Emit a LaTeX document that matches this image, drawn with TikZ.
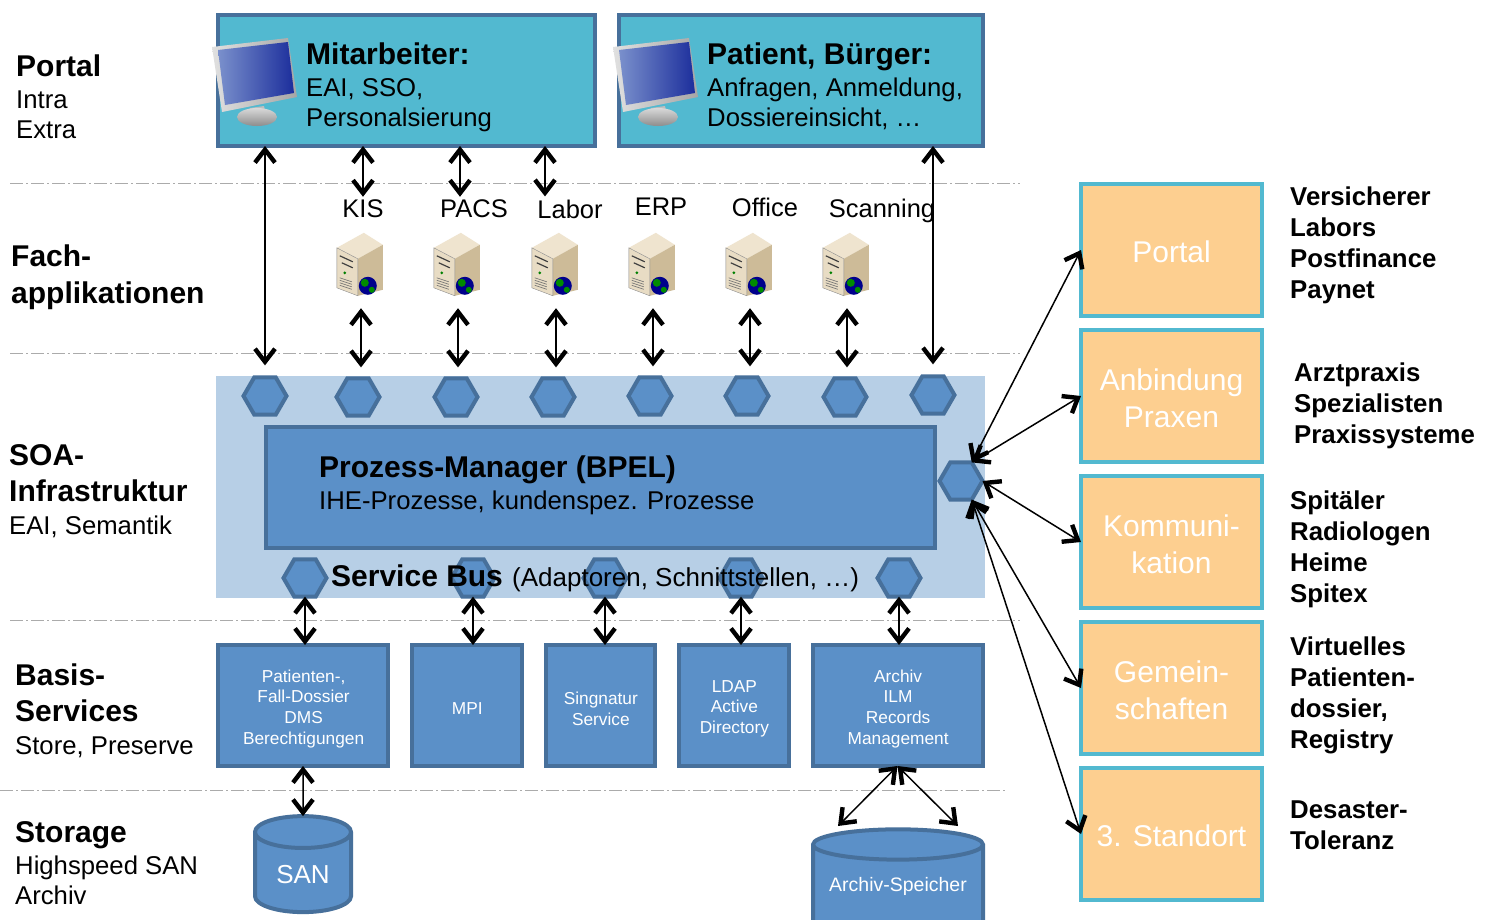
\documentclass[tikz,border=0pt]{standalone}
\usepackage{fontspec}
\setmainfont{Liberation Sans}
\usetikzlibrary{arrows.meta,positioning,shapes.geometric}
\definecolor{bluefill}{HTML}{5B90C8}
\definecolor{blueline}{HTML}{47709B}
\definecolor{bluepale}{HTML}{B7CFE6}
\definecolor{tealfill}{HTML}{52B9D0}
\definecolor{peachfill}{HTML}{FDCF90}
\definecolor{screenlight}{HTML}{7A90CC}
\definecolor{screendark}{HTML}{1C2E9C}
\definecolor{towertop}{HTML}{EFE4CF}
\definecolor{towerfront}{HTML}{E8DCC4}
\definecolor{towerside}{HTML}{CDBB98}
\newcommand{\headfont}{\fontsize{30}{36}\bfseries\selectfont}
\newcommand{\bodyfont}{\fontsize{25.7}{30}\selectfont}
\tikzset{
    layer/.style={anchor=north west,inner sep=0pt,align=left,font=\bodyfont},
    portalbox/.style={draw=blueline,fill=tealfill,line width=4pt,outer sep=0pt,anchor=north west,minimum height=131pt},
    basisbox/.style={draw=blueline,fill=bluefill,line width=4pt,outer sep=0pt,minimum height=121pt},
    basistext/.style={text=white,align=center,inner sep=0pt,yshift=-3.2pt,xshift=.6pt,font=\fontsize{17.3}{20.6}\selectfont},
    sidebox/.style={draw=tealfill,fill=peachfill,line width=4pt,outer sep=0pt,minimum width=181pt,minimum height=132pt},
    sidetext/.style={text=white,align=center,inner sep=0pt,yshift=-2pt,font=\fontsize{30}{37}\selectfont},
    sidelist/.style={anchor=north west,inner sep=0pt,align=left,font=\fontsize{25.8}{31}\bfseries\selectfont},
    hexport/.style={regular polygon,regular polygon sides=6,draw=blueline,fill=bluefill,line width=4pt,inner sep=0pt,outer sep=0pt,minimum size=43pt},
    store/.style={cylinder,shape border rotate=90,draw=blueline,fill=bluefill,line width=4pt,outer sep=0pt,text=white},
    servername/.style={inner sep=0pt,font=\fontsize{25.5}{30}\selectfont},
    serverslot/.style={inner sep=0pt,minimum width=48pt,minimum height=63pt},
    layerline/.style={draw=black!33,line width=1pt,dash pattern=on 13pt off 3pt on 2pt off 3pt},
    biarrow/.style={{Straight Barb[length=13pt,width=20pt,line width=4.4pt]}-{Straight Barb[length=13pt,width=20pt,line width=4.4pt]},line width=1.5pt},
    monitor/.pic={
        \fill[black!25] (38,70) -- (52,68) -- (54,78) -- (36,80) -- cycle;
        \shade[top color=black!15,bottom color=black!45] (45,79) ellipse (20 and 9);
        \shade[left color=black!12,right color=black!35] (0,9) -- (76,0) -- (85,59) -- (10,74) -- cycle;
        \shade[left color=screenlight,right color=screendark] (6,12) -- (76,4) -- (82,55) -- (13,67) -- cycle;
    },
    servertower/.pic={
        \fill[towertop] (0,15) -- (27,0) -- (46,12) -- (21,26) -- cycle;
        \fill[towerside] (21,26) -- (46,12) -- (46,57) -- (21,63) -- cycle;
        \draw[black!45,fill=towerfront,line width=.4pt] (0,15) -- (21,26) -- (21,63) -- (0,55) -- cycle;
        \draw[black!75,line width=1.2pt] (3,23) -- (16,29) (5,30) -- (16,35);
        \fill[green!50!black] (8,40) circle (1.5);
        \foreach \slot in {0,...,3}
            \draw[black!55,line width=.7pt] (3,45+\slot*2.5) -- (15,49+\slot*2.5);
        \fill[blue!55!black] (31,53) circle (9);
        \fill[green!55!black] (28,50) circle (4) (35,57) circle (3);
    }
}
\begin{document}
\begin{tikzpicture}[x=1pt,y=-1pt]

    \clip (0,0) rectangle (1489,919);
    \fill[white] (0,0) rectangle (1489,919);

    \draw[layerline] (10,183) -- (1020,183);
    \draw[layerline] (10,353) -- (1020,353);
    \draw[layerline] (10,620) -- (1020,620);
    \draw[layerline] (0,790) -- (1005,790);

    \node[layer] (labelPortal) at (16,55) {{\headfont Portal}\\[2pt]Intra\\Extra};
    \node[layer] (labelFach) at (11,245) {\headfont Fach-\\[7pt]\headfont applikationen};
    \node[layer] (labelSoa) at (9,444) {{\headfont SOA-}\\[6pt]{\headfont Infrastruktur}\\[3pt]EAI, Semantik};
    \node[layer] (labelBasis) at (15,664) {{\headfont Basis-}\\[6pt]{\headfont Services}\\[3pt]Store, Preserve};
    \node[layer] (labelStorage) at (15,821) {{\headfont Storage}\\[2pt]Highspeed SAN\\Archiv};

    \node[portalbox,minimum width=377pt] (mitarbeiter) at (218,15) {};
    \node[portalbox,minimum width=364pt] (patient) [right=24pt of mitarbeiter] {};
    \pic at (212,38) {monitor};
    \pic at (613,38) {monitor};
    \node[layer] (mitarbeiterText) at (306,43) {{\headfont Mitarbeiter:}\\[2pt]EAI, SSO,\\Personalsierung};
    \node[layer] (patientText) at (707,43) {{\headfont Patient, Bürger:}\\[2pt]Anfragen, Anmeldung,\\Dossiereinsicht, …};

    \foreach \name/\label/\xpos/\ypos in {KIS/KIS/363/209,PACS/PACS/474/209,Labor/Labor/570/209,ERP/ERP/661/207,Office/Office/765/207,Scanning/Scanning/882/211}
        \node[servername] (name\name) at (\xpos,\ypos) {\label};
    \foreach \name/\xpos in {KIS/361,PACS/458,Labor/556,ERP/653,Office/750,Scanning/847} {
        \node[serverslot] (srv\name) at (\xpos,264.5) {};
        \pic at (srv\name.north west) {servertower};
    }

    \node[draw=none,fill=bluepale,minimum width=769pt,minimum height=222pt,inner sep=0pt,anchor=north west] (soa) at (216,376) {};
    \foreach \name/\xpos/\ypos in {a/265/396,b/358/397,c/456/397,d/553/397,e/650/396,f/747/396,g/845/397,h/933/395}
        \node[hexport] (hex\name) at (\xpos,\ypos) {};
    \foreach \name/\xpos in {a/305,b/473,c/605,d/741,e/899}
        \node[hexport] (bus\name) at (\xpos,578) {};
    \node[hexport] (hexRight) at (961,481) {};
    \node[draw=blueline,fill=bluefill,line width=4pt,outer sep=0pt,minimum width=669pt,minimum height=121pt,anchor=north west] (prozess) at (266,427) {};
    \node[layer] (prozessText) at (319,456) {{\headfont Prozess-Manager (BPEL)}\\[2pt]IHE-Prozesse, kundenspez. Prozesse};
    \node[layer,font=\fontsize{26}{30}\selectfont] (busText) at (331,565) {{\headfont Service Bus}\hspace{2pt} (Adaptoren, Schnittstellen, …)};

    \node[basisbox,minimum width=170pt,anchor=north west,label={[basistext]center:{Patienten-,\\Fall-Dossier\\DMS\\Berechtigungen}}] (patientenDossier) at (218,645) {};
    \node[basisbox,minimum width=109.5pt,label={[basistext]center:MPI}] (mpi) [right=24pt of patientenDossier] {};
    \node[basisbox,minimum width=109.5pt,label={[basistext]center:{Singnatur\\Service}}] (signatur) [right=24pt of mpi] {};
    \node[basisbox,minimum width=109.5pt,label={[basistext]center:{LDAP\\Active\\Directory}}] (ldap) [right=24pt of signatur] {};
    \node[basisbox,minimum width=170pt,label={[basistext]center:{Archiv\\ILM\\Records\\Management}}] (archiv) [right=24pt of ldap] {};

    \node[store,aspect=.53,minimum width=96pt,minimum height=96pt,text depth=4pt,font=\fontsize{26}{30}\selectfont] (san) at (303,876) {SAN};
    \node[store,aspect=.21,minimum width=170pt,minimum height=110pt,text depth=21pt,font=\fontsize{19.5}{25}\selectfont] (archivSpeicher) at (898,895) {Archiv-Speicher};
    \coordinate (archivLeft) at (838,826);
    \coordinate (archivRight) at (958,826);

    \node[sidebox,anchor=north west,label={[sidetext]center:Portal}] (sidePortal) at (1081,184) {};
    \node[sidebox,label={[sidetext]center:{Anbindung\\Praxen}}] (sidePraxen) [below=14pt of sidePortal] {};
    \node[sidebox,label={[sidetext]center:{Kommuni-\\kation}}] (sideKomm) [below=14pt of sidePraxen] {};
    \node[sidebox,label={[sidetext]center:{Gemein-\\schaften}}] (sideGemein) [below=14pt of sideKomm] {};
    \node[sidebox,label={[sidetext]center:3. Standort}] (sideStandort) [below=14pt of sideGemein] {};

    \node[sidelist] (listPortal) at (1290,187) {Versicherer\\Labors\\Postfinance\\Paynet};
    \node[sidelist] (listPraxen) at (1294,362.5) {Arztpraxis\\Spezialisten\\Praxissysteme};
    \node[sidelist] (listKomm) at (1290,491) {Spitäler\\Radiologen\\Heime\\Spitex};
    \node[sidelist] (listGemein) at (1290,637) {Virtuelles\\Patienten-\\dossier,\\Registry};
    \node[sidelist] (listStandort) at (1290,801) {Desaster-\\Toleranz};

    \draw[biarrow,shorten >=12pt] (hexa.north |- mitarbeiter.south) -- (hexa.north);
    \draw[biarrow,shorten >=12pt] (hexh.north |- patient.south) -- (hexh.north);
    \draw[biarrow,shorten >=3pt] (nameKIS.north |- mitarbeiter.south) -- (nameKIS.north);
    \draw[biarrow,shorten >=3pt] ([xshift=-14pt]namePACS.north |- mitarbeiter.south) -- ([xshift=-14pt]namePACS.north);
    \draw[biarrow,shorten >=3pt] ([xshift=-25pt]nameLabor.north |- mitarbeiter.south) -- ([xshift=-25pt]nameLabor.north);
    \foreach \name/\hex in {KIS/b,PACS/c,Labor/d,ERP/e,Office/f,Scanning/g}
        \draw[biarrow,shorten <=12pt,shorten >=11pt] (srv\name.south) -- (srv\name.south |- hex\hex.north);

    \draw[biarrow] (busa.south) -- (busa.south |- patientenDossier.north);
    \draw[biarrow] (busb.south) -- (busb.south |- mpi.north);
    \draw[biarrow] (busc.south) -- (busc.south |- signatur.north);
    \draw[biarrow] (busd.south) -- (busd.south |- ldap.north);
    \draw[biarrow] (buse.south) -- (buse.south |- archiv.north);
    \draw[biarrow] (patientenDossier.south) -- (san.north);
    \draw[biarrow] (archiv.south) -- (archivLeft);
    \draw[biarrow] (archiv.south) -- (archivRight);

    \draw[biarrow] (hexRight.60) -- (sidePortal.west);
    \draw[biarrow] (hexRight.60) -- (sidePraxen.west);
    \draw[biarrow] (hexRight.0) -- (sideKomm.west);
    \draw[biarrow] (hexRight.-60) -- (sideGemein.west);
    \draw[biarrow] (hexRight.-60) -- (sideStandort.west);

\end{tikzpicture}
\end{document}
